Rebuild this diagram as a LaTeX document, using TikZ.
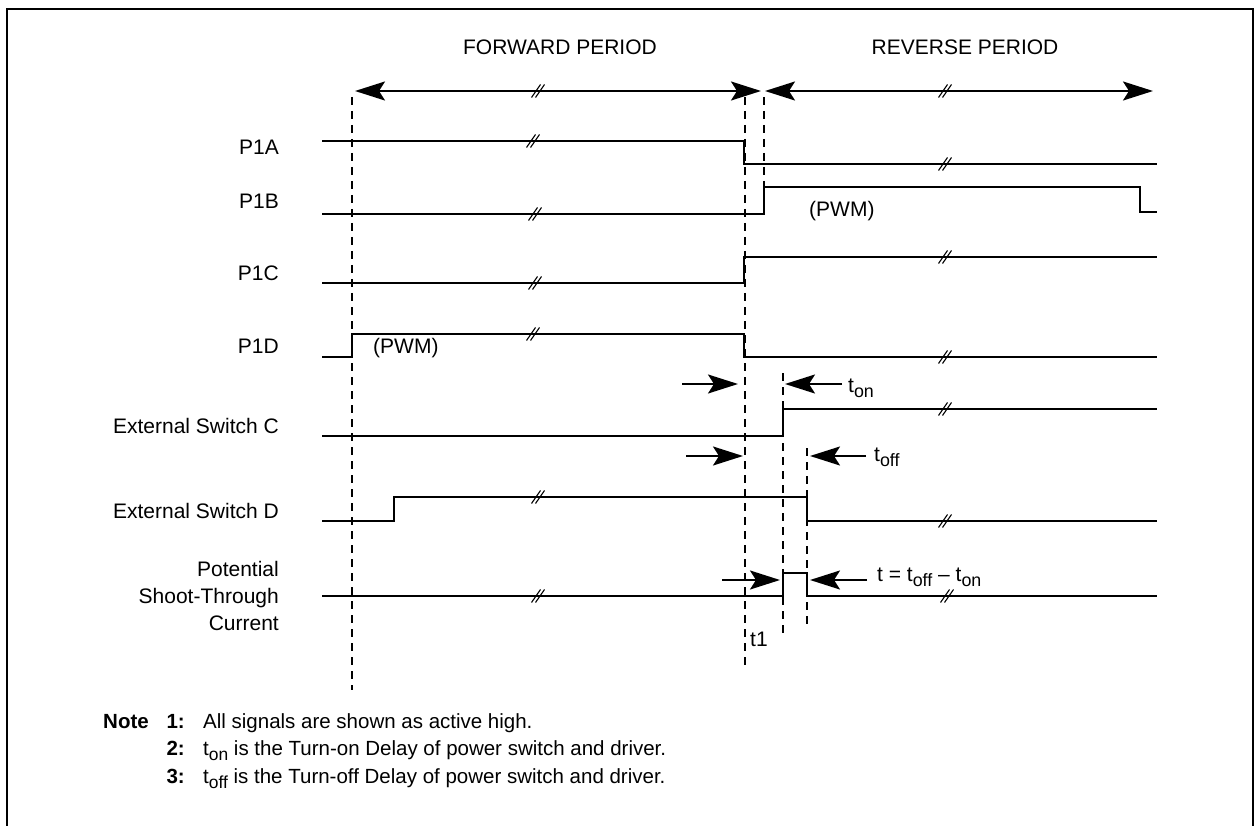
\documentclass[tikz,border=0pt]{standalone}
\usepackage{fontspec}
\setmainfont{Liberation Sans}
\usetikzlibrary{arrows.meta}
\newcommand\subtx[1]{\raisebox{-0.28em}{\scalebox{0.85}{#1}}}
\tikzset{
  sig/.style={line width=2pt, line join=miter},
  vdash/.style={line width=2pt, dash pattern=on 8pt off 6pt},
  onearrow/.style={line width=2pt, -{Stealth[length=30pt,width=19pt,inset=6pt]}},
  period/.style={line width=2pt, {Stealth[length=30pt,width=19pt,inset=6pt]}-{Stealth[length=30pt,width=19pt,inset=6pt]}},
  lbl/.style={inner sep=0pt, anchor=base east, font=\fontsize{21}{26}\selectfont},
  txt/.style={inner sep=0pt, anchor=base west, font=\fontsize{21}{26}\selectfont},
  ntxt/.style={inner sep=0pt, anchor=base west, font=\fontsize{20.5}{24}\selectfont},
  nnum/.style={inner sep=0pt, anchor=base east, font=\fontsize{20.5}{24}\selectfont\bfseries},
  brk/.pic={\draw[line width=1.1pt] (-6.5,6.5) -- (2.5,-6.5) (-2.5,6.5) -- (6.5,-6.5);}
}
\begin{document}
\begin{tikzpicture}[x=1pt,y=-1pt]
\useasboundingbox (0,0) rectangle (1255,826);
% frame
\draw[line width=2.2pt] (7,826) -- (7,9) -- (1253,9) -- (1253,826);

% period headings
\node[txt, anchor=base] (fwd) at (560,55) {FORWARD PERIOD};
\node[txt, anchor=base] (rev) at (965,55) {REVERSE PERIOD};
\draw[period] (355,91) -- (761,91);
\draw[period] (765,91) -- (1153,91);
\pic at (538,91) {brk};
\pic at (945,91) {brk};

% dashed reference lines
\draw[vdash] (352,97) -- (352,690);
\draw[vdash] (745,97) -- (745,668);
\draw[vdash] (764,97) -- (764,187);
\draw[vdash] (783,373) -- (783,633);
\draw[vdash] (807,448) -- (807,627);

% signal labels
\node[lbl] (la) at (279,155) {P1A};
\node[lbl] (lb) at (279,209) {P1B};
\node[lbl] (lc) at (279,280) {P1C};
\node[lbl] (ld) at (279,353) {P1D};
\node[lbl] (lec) at (279,433) {External Switch C};
\node[lbl] (led) at (279,518) {External Switch D};
\node[lbl] (ls1) at (279,576) {Potential};
\node[lbl] (ls2) at (279,603) {Shoot-Through};
\node[lbl] (ls3) at (279,630) {Current};

% P1A
\draw[sig] (322,141) -- (744,141) -- (744,164) -- (1157,164);
\pic at (533,141) {brk};
\pic at (945,164) {brk};
% P1B
\draw[sig] (322,214) -- (764,214) -- (764,187) -- (1140,187) -- (1140,212) -- (1157,212);
\pic at (535,214) {brk};
\node[txt] (pwmb) at (809,217) {(PWM)};
% P1C
\draw[sig] (322,283) -- (744,283) -- (744,257) -- (1157,257);
\pic at (535,283) {brk};
\pic at (945,257) {brk};
% P1D
\draw[sig] (322,357) -- (352,357) -- (352,334) -- (744,334) -- (744,357) -- (1157,357);
\pic at (533,334) {brk};
\pic at (945,357) {brk};
\node[txt] (pwmd) at (373,353) {(PWM)};

% t_on arrows
\draw[onearrow] (682,384) -- (738,384);
\draw[onearrow] (842,384) -- (785,384);
\node[txt] (ton) at (848,392) {t\subtx{on}};

% External Switch C
\draw[sig] (322,436) -- (783,436) -- (783,409) -- (1157,409);
\pic at (945,409) {brk};

% t_off arrows
\draw[onearrow] (686,456) -- (743,456);
\draw[onearrow] (866,456) -- (810,456);
\node[txt] (toff) at (874,461) {t\subtx{off}};

% External Switch D
\draw[sig] (322,521) -- (394,521) -- (394,497) -- (807,497) -- (807,521) -- (1157,521);
\pic at (538,497) {brk};
\pic at (945,521) {brk};

% Shoot-through
\draw[sig] (322,596) -- (783,596) -- (783,573) -- (807,573) -- (807,596) -- (1157,596);
\pic at (538,596) {brk};
\pic at (947,596) {brk};
\draw[onearrow] (722,580) -- (780,580);
\draw[onearrow] (867,580) -- (810,580);
\node[txt] (tdiff) at (877,581) {t = t\subtx{off} – t\subtx{on}};
\node[txt] (t1) at (750,646) {t1};

% notes
\node[ntxt, font=\fontsize{20.5}{24}\selectfont\bfseries] (note) at (103,728) {Note};
\node[nnum] (n1) at (185,728) {1:};
\node[nnum] (n2) at (185,755) {2:};
\node[nnum] (n3) at (185,783) {3:};
\node[ntxt] (nt1) at (203,728) {All signals are shown as active high.};
\node[ntxt] (nt2) at (203,755) {t\subtx{on} is the Turn-on Delay of power switch and driver.};
\node[ntxt] (nt3) at (203,783) {t\subtx{off} is the Turn-off Delay of power switch and driver.};
\end{tikzpicture}
\end{document}
